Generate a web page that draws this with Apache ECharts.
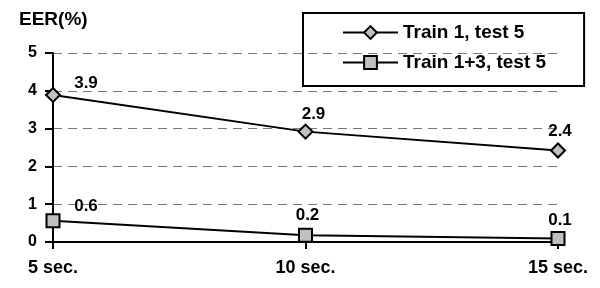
<!DOCTYPE html>
<html>
<head>
<meta charset="utf-8">
<script src="https://cdn.jsdelivr.net/npm/echarts@6/dist/echarts.min.js"></script>
<style>
  html, body { margin: 0; padding: 0; background: #fff; }
  #chart { width: 600px; height: 288px; }
</style>
</head>
<body>
<div id="chart"></div>
<script>
// 横轴类别
var categories = ['5 sec.', '10 sec.', '15 sec.']
// 纵轴刻度
var yTicks = [0, 1, 2, 3, 4, 5]
// 两条曲线 (EER %)
var train1 = [3.89, 2.92, 2.42]
var train13 = [0.56, 0.18, 0.09]
var seriesNames = ['Train 1, test 5', 'Train 1+3, test 5']

var font = 'Liberation Sans, Arial, sans-serif'

// 数值标签的偏移
var labelOffsets1 = [[33, 11], [8, 5], [2, 3]]
var labelOffsets2 = [[33, 7], [2, 2], [2, 4]]

function makeData(vals, offsets) {
	return vals.map(function (v, i) {
		return { value: v, label: { offset: offsets[i] } }
	})
}

var chart = echarts.init(document.getElementById('chart'))
var option = {
	animation: false,
	title: {
		text: 'EER(%)',
		left: 14,
		top: 5,
		textStyle: { fontFamily: font, fontWeight: 'bold', fontSize: 19, color: '#000' }
	},
	legend: {
		orient: 'vertical',
		left: 303,
		top: 13,
		padding: [10, 38, 14, 39],
		itemGap: 11,
		itemWidth: 55,
		itemHeight: 16,
		itemStyle: { color: '#c0c0c0', borderColor: '#000', borderWidth: 2 },
		lineStyle: { color: '#000', width: 2 },
		borderColor: '#000',
		borderWidth: 2,
		data: seriesNames,
		textStyle: { fontFamily: font, fontWeight: 'bold', fontSize: 19, color: '#000' }
	},
	grid: { left: 53, right: 42, top: 53, bottom: 46 },
	xAxis: {
		type: 'category',
		data: categories,
		boundaryGap: false,
		axisLine: { lineStyle: { color: '#000', width: 2 } },
		axisTick: { length: 7, lineStyle: { color: '#000', width: 2 } },
		axisLabel: { margin: 17, fontFamily: font, fontWeight: 'bold', fontSize: 18, color: '#000' }
	},
	yAxis: {
		type: 'value',
		min: yTicks[0],
		max: yTicks[yTicks.length - 1],
		interval: 1,
		axisLine: { show: true, lineStyle: { color: '#000', width: 2 } },
		axisTick: { show: true, length: 8, lineStyle: { color: '#000', width: 2 } },
		axisLabel: { margin: 16, fontFamily: font, fontWeight: 'bold', fontSize: 16, color: '#000' },
		splitLine: { lineStyle: { color: '#777', width: 1, type: [9, 6] } }
	},
	series: [
		{
			name: seriesNames[0],
			type: 'line',
			symbol: 'diamond',
			symbolSize: 14,
			data: makeData(train1, labelOffsets1),
			lineStyle: { color: '#000', width: 2 },
			itemStyle: { color: '#c0c0c0', borderColor: '#000', borderWidth: 2 },
			label: {
				show: true,
				position: 'top',
				distance: 6,
				formatter: function (p) { return p.value.toFixed(1) },
				fontFamily: font, fontWeight: 'bold', fontSize: 17, color: '#000'
			}
		},
		{
			name: seriesNames[1],
			type: 'line',
			symbol: 'rect',
			symbolSize: 13,
			data: makeData(train13, labelOffsets2),
			lineStyle: { color: '#000', width: 2 },
			itemStyle: { color: '#c0c0c0', borderColor: '#000', borderWidth: 2 },
			label: {
				show: true,
				position: 'top',
				distance: 6,
				formatter: function (p) { return p.value.toFixed(1) },
				fontFamily: font, fontWeight: 'bold', fontSize: 17, color: '#000'
			}
		}
	]
}
chart.setOption(option)
</script>
</body>
</html>
